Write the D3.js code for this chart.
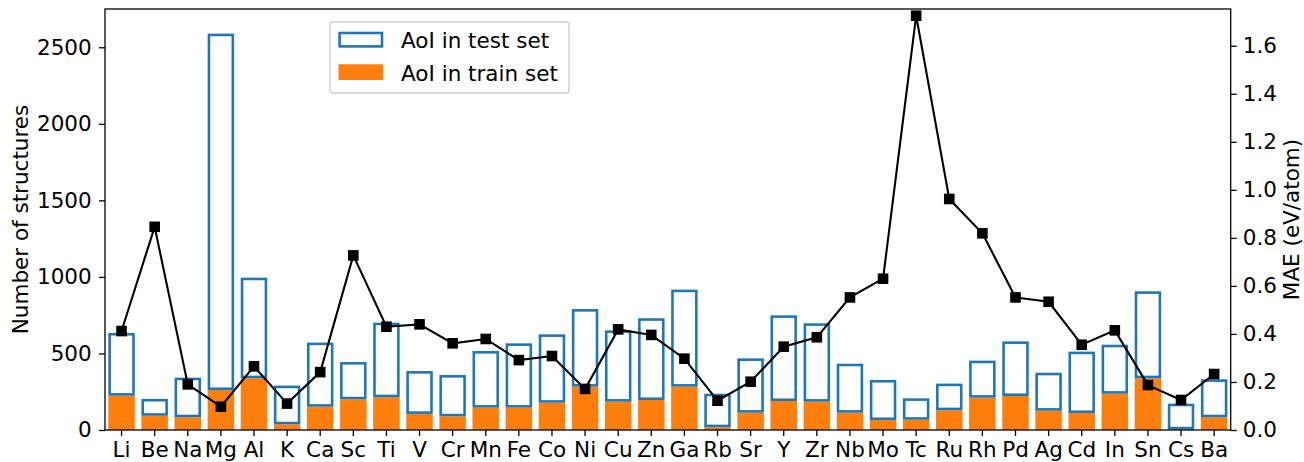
<!DOCTYPE html>
<html>
<head>
<meta charset="utf-8">
<script src="https://cdn.jsdelivr.net/npm/d3@7"></script>
<style>
  html, body { margin: 0; padding: 0; background: #fff; }
  svg { display: block; font-family: "DejaVu Sans", sans-serif; }
</style>
</head>
<body>
<svg id="chart" width="1304" height="462"></svg>
<script>
// Element of interest (AoI) per category
const elements = ["Li","Be","Na","Mg","Al","K","Ca","Sc","Ti","V","Cr","Mn","Fe","Co","Ni","Cu","Zn","Ga",
                  "Rb","Sr","Y","Zr","Nb","Mo","Tc","Ru","Rh","Pd","Ag","Cd","In","Sn","Cs","Ba"];

// Number of structures containing the element in the train set
const trainCounts = [224, 93, 83, 261, 338, 37, 152, 200, 214, 105, 89, 146, 146, 178, 283, 185, 196, 283,
                     18, 113, 189, 185, 113, 65, 67, 129, 211, 222, 126, 111, 237, 338, 4, 83];

// Number of structures containing the element in the test set (stacked above train)
const testCounts = [410, 110, 259, 2328, 657, 253, 419, 244, 487, 280, 270, 370, 420, 447, 507, 466, 534, 634,
                    219, 355, 560, 512, 320, 262, 140, 174, 242, 357, 248, 401, 320, 568, 168, 248];

// Mean absolute error per element (eV/atom)
const maeValues = [0.412, 0.846, 0.190, 0.097, 0.265, 0.110, 0.241, 0.727, 0.430, 0.440, 0.361, 0.379,
                   0.291, 0.308, 0.171, 0.419, 0.396, 0.297, 0.122, 0.201, 0.347, 0.386, 0.552, 0.630,
                   1.725, 0.962, 0.819, 0.552, 0.534, 0.355, 0.415, 0.187, 0.125, 0.233];

const countTicks = [0, 500, 1000, 1500, 2000, 2500];
const maeTicks = [0.0, 0.2, 0.4, 0.6, 0.8, 1.0, 1.2, 1.4, 1.6];

const legendLabels = ["AoI in test set", "AoI in train set"];

const blue = "#1f77b4", orange = "#ff7f0e";
const fontSize = 21.5;

const svg = d3.select("#chart");
const plotLeft = 105, plotRight = 1230.7, plotTop = 9, plotBottom = 430;

const x = d3.scaleBand().domain(elements).range([plotLeft, plotRight]).paddingInner(0.2).paddingOuter(0.1);
const yCount = d3.scaleLinear().domain([0, 2750]).range([plotBottom, plotTop]);
const yMae = d3.scaleLinear().domain([0, 1.753]).range([plotBottom, plotTop]);

svg.append("clipPath").attr("id", "plotclip")
  .append("rect").attr("x", plotLeft).attr("y", plotTop)
  .attr("width", plotRight - plotLeft).attr("height", plotBottom - plotTop);

const plot = svg.append("g");

// train bars (filled)
plot.append("g").attr("clip-path", "url(#plotclip)")
  .selectAll("rect").data(elements).join("rect")
  .attr("x", d => x(d))
  .attr("width", x.bandwidth())
  .attr("y", (d, i) => yCount(trainCounts[i]))
  .attr("height", (d, i) => yCount(0) - yCount(trainCounts[i]))
  .attr("fill", orange);

// test bars (outlined, stacked on train)
const sw = 2.6;
plot.append("g").attr("clip-path", "url(#plotclip)")
  .selectAll("rect").data(elements).join("rect")
  .attr("x", d => x(d) + sw / 2)
  .attr("width", x.bandwidth() - sw)
  .attr("y", (d, i) => yCount(trainCounts[i] + testCounts[i]) + sw / 2)
  .attr("height", (d, i) => Math.max(0, yCount(trainCounts[i]) - yCount(trainCounts[i] + testCounts[i]) - sw))
  .attr("fill", "none")
  .attr("stroke", blue)
  .attr("stroke-width", sw);

// MAE line with square markers
const cx = d => x(d) + x.bandwidth() / 2;
const line = d3.line().x((d, i) => cx(elements[i])).y(d => yMae(d));
plot.append("path").datum(maeValues)
  .attr("d", line).attr("fill", "none").attr("stroke", "#000").attr("stroke-width", 2.1);
const ms = 10.6;
plot.append("g").selectAll("rect").data(maeValues).join("rect")
  .attr("x", (d, i) => cx(elements[i]) - ms / 2)
  .attr("y", d => yMae(d) - ms / 2)
  .attr("width", ms).attr("height", ms).attr("fill", "#000");

// axes
function styleAxis(g) {
  g.selectAll("path.domain").remove();
  g.selectAll(".tick line").attr("stroke", "#000").attr("stroke-width", 1.3);
  g.selectAll(".tick text").attr("font-size", fontSize).attr("fill", "#000")
    .attr("font-family", "DejaVu Sans, sans-serif");
}
svg.append("g").attr("transform", `translate(0,${plotBottom})`)
  .call(d3.axisBottom(x).tickSize(6).tickPadding(5.5).tickSizeOuter(0))
  .call(styleAxis);
svg.append("g").attr("transform", `translate(${plotLeft},0)`)
  .call(d3.axisLeft(yCount).tickValues(countTicks).tickFormat(d3.format("d")).tickSize(6).tickPadding(7.3))
  .call(styleAxis);
svg.append("g").attr("transform", `translate(${plotRight},0)`)
  .call(d3.axisRight(yMae).tickValues(maeTicks).tickFormat(d3.format(".1f")).tickSize(6).tickPadding(6))
  .call(styleAxis);

// frame
svg.append("rect").attr("x", plotLeft).attr("y", plotTop)
  .attr("width", plotRight - plotLeft).attr("height", plotBottom - plotTop)
  .attr("fill", "none").attr("stroke", "#000").attr("stroke-width", 1.3);

// axis titles
svg.append("text").attr("transform", `translate(20,${(plotTop + plotBottom) / 2}) rotate(-90)`)
  .attr("text-anchor", "middle").attr("dominant-baseline", "central")
  .attr("font-size", fontSize).text("Number of structures");
svg.append("text").attr("transform", `translate(1291.5,${(plotTop + plotBottom) / 2}) rotate(-90)`)
  .attr("text-anchor", "middle").attr("dominant-baseline", "central")
  .attr("font-size", fontSize).text("MAE (eV/atom)");

// legend
const lg = svg.append("g");
lg.append("rect").attr("x", 330).attr("y", 22).attr("width", 239).attr("height", 71)
  .attr("rx", 3).attr("fill", "#fff").attr("fill-opacity", 0.8)
  .attr("stroke", "#cccccc").attr("stroke-width", 1.3);
lg.append("rect").attr("x", 338.3 + sw / 2).attr("y", 31.7 + sw / 2)
  .attr("width", 45 - sw).attr("height", 16 - sw)
  .attr("fill", "none").attr("stroke", blue).attr("stroke-width", sw);
lg.append("rect").attr("x", 338.5).attr("y", 64.3).attr("width", 44.5).attr("height", 15.7).attr("fill", orange);
lg.selectAll("text.lbl").data(legendLabels).join("text").attr("class", "lbl")
  .attr("x", 401).attr("y", (d, i) => 48 + i * 32.6)
  .attr("font-size", fontSize).attr("fill", "#000").text(d => d);
</script>
</body>
</html>
